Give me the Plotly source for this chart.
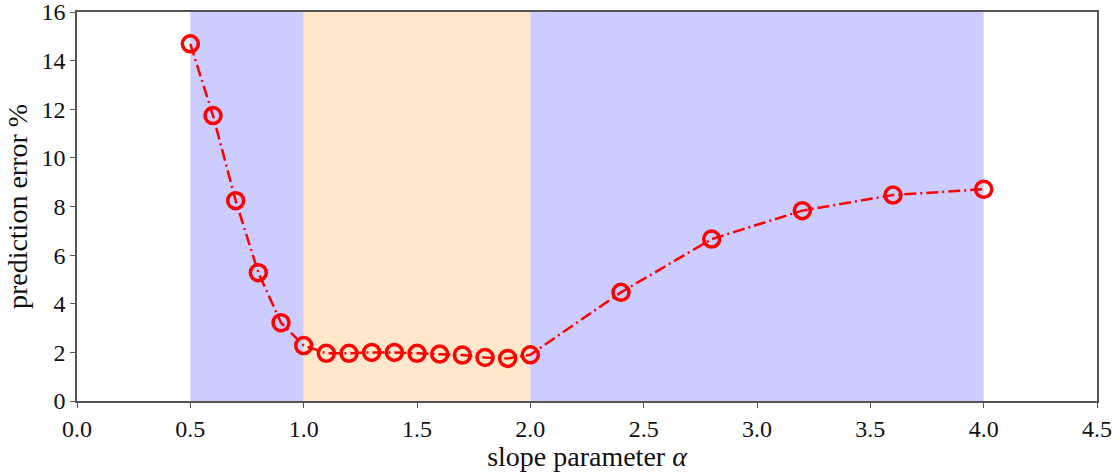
import plotly.graph_objects as go

alpha = [0.5, 0.6, 0.7, 0.8, 0.9, 1.0, 1.1, 1.2, 1.3, 1.4, 1.5, 1.6, 1.7, 1.8, 1.9, 2.0,
         2.4, 2.8, 3.2, 3.6, 4.0]
error_pct = [14.69, 11.74, 8.24, 5.28, 3.22, 2.28, 1.96, 1.96, 2.00, 2.00, 1.96, 1.93, 1.89,
             1.79, 1.75, 1.90, 4.47, 6.66, 7.83, 8.47, 8.71]

region_starts = [0.5, 1.0, 2.0]
region_ends = [1.0, 2.0, 4.0]
region_colors = ["#ccccff", "#ffe7cc", "#ccccff"]

x_ticks = [0.0, 0.5, 1.0, 1.5, 2.0, 2.5, 3.0, 3.5, 4.0, 4.5]
y_ticks = [0, 2, 4, 6, 8, 10, 12, 14, 16]

FONT = "Liberation Serif, DejaVu Serif, serif"

fig = go.Figure()
fig.add_trace(go.Scatter(
    x=alpha, y=error_pct, mode="lines+markers",
    line=dict(color="#ff0000", width=2.5, dash="12px,4px,2px,4px"),
    marker=dict(symbol="circle-open", size=16, color="#ff0000",
                line=dict(width=3.5, color="#ff0000")),
    showlegend=False,
))

shapes = []
for s, e, c in zip(region_starts, region_ends, region_colors):
    shapes.append(dict(type="rect", xref="x", yref="y", x0=s, x1=e, y0=0, y1=16,
                       fillcolor=c, line=dict(width=0), layer="below"))

axis_common = dict(showline=True, linecolor="#555555", linewidth=1.5, mirror=True,
                   ticks="outside", ticklen=5, tickwidth=1.2, tickcolor="#555555",
                   showgrid=False, zeroline=False, automargin=False,
                   ticklabeloverflow="allow",
                   tickfont=dict(family=FONT, size=24, color="#111111"))

fig.update_layout(
    width=1119, height=472,
    margin=dict(l=77, r=22, t=12, b=71),
    plot_bgcolor="white", paper_bgcolor="white",
    shapes=shapes,
    xaxis=dict(range=[0, 4.5], tickvals=x_ticks, ticktext=[f"{v:.1f}" for v in x_ticks],
               title=dict(text="slope parameter <i>α</i>", font=dict(family=FONT, size=28, color="#111111"),
                          standoff=4),
               **axis_common),
    yaxis=dict(range=[0, 16], tickvals=y_ticks, ticktext=[str(v) for v in y_ticks],
               title=dict(text="prediction error %", font=dict(family=FONT, size=28, color="#111111"),
                          standoff=6),
               **axis_common),
)

fig.write_html("out.html")
